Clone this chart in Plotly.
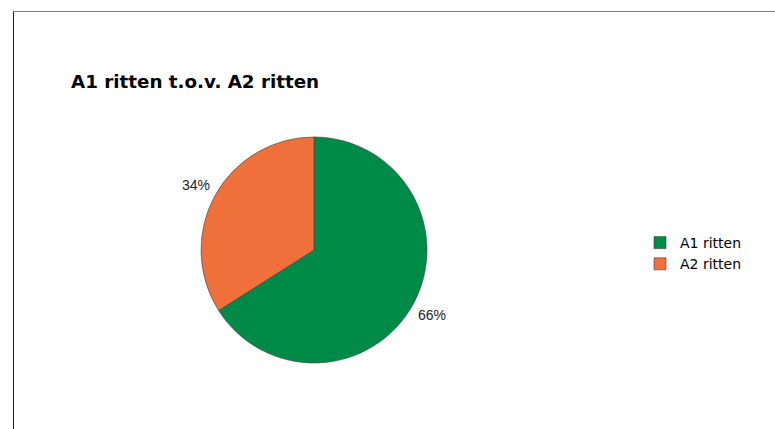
import math
import plotly.graph_objects as go

labels = ["A1 ritten", "A2 ritten"]
values = [66, 34]
colors = ["#008A47", "#F0703C"]
title_text = "A1 ritten t.o.v. A2 ritten"

W, H = 775, 429
cx, cy, R = 314, 250, 113

fig = go.Figure()
fig.add_trace(go.Pie(
    labels=labels, values=values, sort=False, direction="clockwise", rotation=0,
    marker=dict(colors=colors, line=dict(color="#404040", width=0.6)),
    textinfo="none", hoverinfo="label+percent",
    domain=dict(x=[(cx - R) / W, (cx + R) / W], y=[(H - cy - R) / H, (H - cy + R) / H]),
))

# percentage labels placed outside at the slice mid-angle
total = sum(values)
cum = 0
annotations = []
for v in values:
    mid = (cum + v / 2) / total * 2 * math.pi
    cum += v
    r = R * 1.19
    px = cx + r * math.sin(mid)
    py = cy - r * math.cos(mid)
    annotations.append(dict(
        x=px / W, y=1 - py / H, xref="paper", yref="paper",
        xanchor="center", yanchor="middle",
        text=f"{round(v / total * 100)}%", showarrow=False,
        font=dict(family="Liberation Sans, Arial", size=14, color="#222222"),
    ))

annotations.append(dict(
    x=69 / W, y=1 - 82 / H, xref="paper", yref="paper", xanchor="left", yanchor="middle",
    text=f"<b>{title_text}</b>", showarrow=False,
    font=dict(family="DejaVu Sans, Verdana", size=18.3, color="#000000"),
))

fig.update_layout(
    width=W, height=H, margin=dict(l=0, r=0, t=0, b=0),
    paper_bgcolor="white", plot_bgcolor="white",
    showlegend=True,
    legend=dict(x=640 / W, y=1 - 227 / H, xanchor="left", yanchor="top",
                font=dict(family="DejaVu Sans, Verdana", size=14, color="#000000"),
                itemwidth=30, tracegroupgap=0, bgcolor="rgba(0,0,0,0)"),
    annotations=annotations,
    shapes=[
        dict(type="line", xref="paper", yref="paper", x0=13.5 / W, x1=1, y0=1 - 11.5 / H, y1=1 - 11.5 / H,
             line=dict(color="#808080", width=1)),
        dict(type="line", xref="paper", yref="paper", x0=13.5 / W, x1=13.5 / W, y0=1 - 11.5 / H, y1=0,
             line=dict(color="#202020", width=1)),
    ],
)

fig.write_html("out.html", config={"displayModeBar": False},
               post_script="document.body.style.margin='0';document.body.style.overflow='hidden';")
